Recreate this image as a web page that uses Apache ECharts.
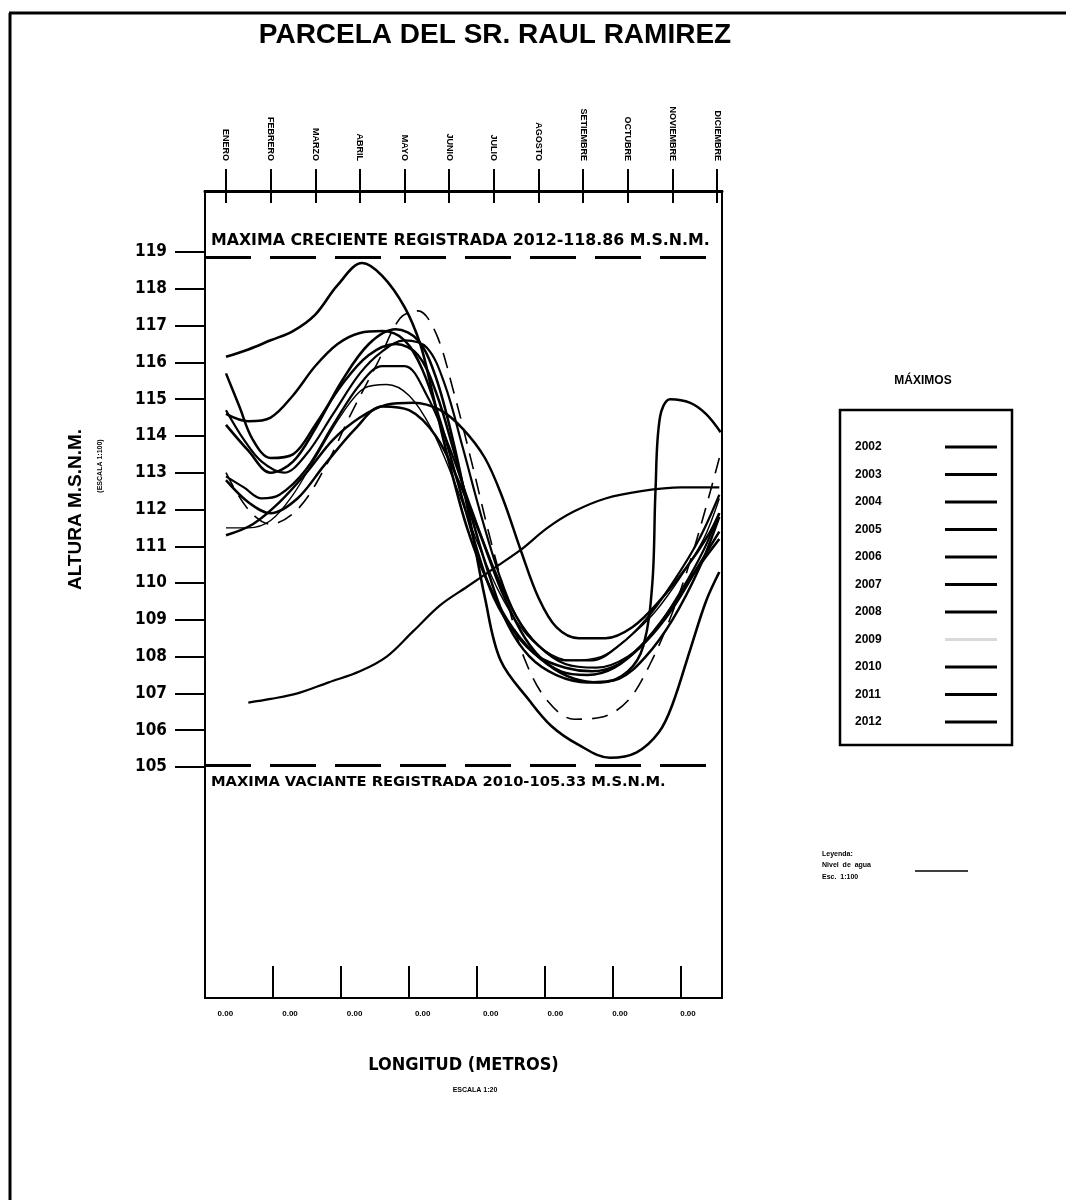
<!DOCTYPE html>
<html>
<head>
<meta charset="utf-8">
<script src="https://cdn.jsdelivr.net/npm/echarts@6/dist/echarts.min.js"></script>
<style>html,body{margin:0;padding:0;background:#fff}#c{width:1066px;height:1200px}</style>
</head>
<body>
<div id="c"></div>
<script>
// ---- data (x = month position, 0 = ENERO ... 11 = DICIEMBRE; y = altura m.s.n.m.) ----
const months = ['ENERO','FEBRERO','MARZO','ABRIL','MAYO','JUNIO','JULIO','AGOSTO','SETIEMBRE','OCTUBRE','NOVIEMBRE','DICIEMBRE'];
const monthPos = [0,1,2,3,4,5,6,7,8,9,10,11];
const lengthTickPos = [1,2,3,4,5,6,7];
const lengthLabelPos = [0.3,1.25,2.2,3.2,4.2,5.15,6.1,7.1];
const lengthLabels = ['0.00','0.00','0.00','0.00','0.00','0.00','0.00','0.00'];
const maxCreciente = 118.86;
const maxVaciante = 105.05;

const y2002 = [[0,114.6],[0.5,114.4],[1,114.5],[1.5,115.1],[2,115.9],[2.5,116.5],[3,116.8],[3.5,116.85],[4,116.6],[4.4,115.8],[4.8,114.4],[5.2,112.7],[5.6,111.0],[6.0,109.6],[6.5,108.6],[7.0,108.0],[7.6,107.7],[8.2,107.6],[8.8,107.8],[9.4,108.4],[10.0,109.3],[10.6,110.5],[11.05,111.4]];
const y2003 = [[0,115.7],[0.3,114.8],[0.6,113.9],[1,113.4],[1.5,113.5],[2,114.3],[2.6,115.4],[3.2,116.2],[3.8,116.5],[4.3,116.2],[4.7,115.2],[5.1,113.6],[5.5,111.8],[5.9,110.2],[6.3,108.9],[6.8,108.0],[7.4,107.5],[8.1,107.3],[8.8,107.4],[9.4,108.0],[10.0,109.0],[10.6,110.4],[11.05,111.8]];
const y2004 = [[0,112.8],[0.5,112.2],[1,111.9],[1.6,112.3],[2.2,113.2],[2.9,114.2],[3.5,114.8],[4.1,114.7],[4.7,114.0],[5.2,112.8],[5.7,111.3],[6.2,109.7],[6.7,108.5],[7.2,107.8],[7.8,107.4],[8.4,107.3],[9.0,107.6],[9.35,108.3],[9.55,110.0],[9.62,112.5],[9.72,114.5],[9.95,115.0],[10.4,114.9],[10.75,114.6],[11.08,114.1]];
const y2005 = [[0,112.9],[0.4,112.6],[0.8,112.3],[1.2,112.4],[1.8,113.1],[2.4,114.3],[3.0,115.4],[3.5,115.9],[4.0,115.9],[4.5,115.1],[5.0,113.7],[5.5,112.0],[6.0,110.4],[6.5,109.1],[7.0,108.3],[7.6,107.8],[8.3,107.7],[9.0,108.0],[9.6,108.7],[10.2,109.8],[10.7,110.9],[11.05,111.9]];
const y2006 = [[0,111.5],[0.5,111.5],[1,111.7],[1.5,112.4],[2,113.4],[2.6,114.6],[3.1,115.3],[3.6,115.4],[4.1,115.1],[4.6,114.2],[5.1,112.8],[5.6,111.2],[6.1,109.8],[6.6,108.8],[7.1,108.2],[7.7,107.9],[8.4,108.0],[9.0,108.5],[9.6,109.2],[10.2,110.2],[10.7,111.2],[11.05,112.3]];
const y2007 = [[0,111.3],[0.6,111.6],[1.2,112.2],[1.8,113.0],[2.4,113.9],[3.0,114.5],[3.6,114.85],[4.2,114.9],[4.8,114.7],[5.3,114.2],[5.8,113.4],[6.2,112.3],[6.6,110.9],[7.0,109.6],[7.4,108.8],[7.9,108.5],[8.5,108.5],[9.1,108.8],[9.7,109.5],[10.3,110.4],[10.8,111.3],[11.05,111.9]];
const y2008 = [[0,114.7],[0.4,113.9],[0.8,113.3],[1.3,113.0],[1.8,113.5],[2.4,114.6],[3.0,115.7],[3.5,116.3],[4.0,116.6],[4.5,116.4],[4.9,115.4],[5.3,113.7],[5.7,111.9],[6.1,110.3],[6.5,109.1],[7.0,108.3],[7.6,107.9],[8.2,107.9],[8.8,108.3],[9.4,109.0],[10.0,110.0],[10.6,111.2],[11.05,112.4]];
const y2009 = [[0,113.0],[0.5,112.0],[1,111.6],[1.6,112.0],[2.2,113.1],[2.8,114.6],[3.4,116.0],[3.9,117.2],[4.3,117.4],[4.7,116.8],[5.1,115.2],[5.5,113.3],[5.9,111.3],[6.3,109.5],[6.7,107.9],[7.2,106.8],[7.8,106.3],[8.4,106.35],[9.0,106.8],[9.5,107.8],[10.0,109.2],[10.5,111.0],[11.05,113.4]];
const y2010 = [[0,114.3],[0.5,113.6],[1,113.0],[1.5,113.3],[2,114.2],[2.6,115.5],[3.2,116.5],[3.8,116.9],[4.3,116.6],[4.7,115.6],[5.1,113.8],[5.45,111.8],[5.8,109.6],[6.15,107.9],[6.8,106.8],[7.3,106.1],[7.9,105.6],[8.6,105.25],[9.2,105.4],[9.7,105.95],[10.0,106.7],[10.4,108.2],[10.75,109.5],[11.05,110.3]];
const y2011 = [[0.5,106.75],[1,106.85],[1.6,107.0],[2.3,107.3],[3,107.6],[3.6,108.0],[4.2,108.7],[4.8,109.4],[5.4,109.9],[6,110.4],[6.6,110.9],[7.2,111.5],[7.8,111.95],[8.5,112.3],[9.3,112.5],[10.2,112.6],[11.05,112.6]];
const y2012 = [[0,116.15],[0.5,116.35],[1,116.6],[1.5,116.85],[2,117.3],[2.5,118.1],[3.05,118.7],[3.5,118.35],[4,117.5],[4.35,116.5],[4.6,115.3],[4.85,114.0],[5.1,112.8],[5.4,111.5],[5.8,110.2],[6.3,109.0],[6.9,108.1],[7.5,107.6],[8.1,107.5],[8.7,107.7],[9.3,108.3],[9.9,109.2],[10.5,110.3],[11.05,111.2]];

const seriesNames = ['2002','2003','2004','2005','2006','2007','2008','2009','2010','2011','2012'];
const seriesData = [y2002,y2003,y2004,y2005,y2006,y2007,y2008,y2009,y2010,y2011,y2012];
const seriesWidth = [2.5,2.5,2.5,2.2,1.4,2.5,2.2,1.6,2.6,2.2,2.6];

const FONT = "'Liberation Sans', Arial, sans-serif";
const NARROW = "'Liberation Sans Narrow','DejaVu Sans Condensed','Liberation Sans',sans-serif";
const WIDE = "'DejaVu Sans','Liberation Sans',sans-serif";

const series = seriesNames.map((n, i) => ({
  name: n, type: 'line', xAxisIndex: 0, yAxisIndex: 0,
  data: seriesData[i], smooth: 0.35, symbol: 'none', showSymbol: false, color: '#000',
  lineStyle: { color: '#000', width: seriesWidth[i], type: n === '2009' ? [16, 10] : 'solid' },
  z: 3
}));
// reference lines (max creciente / max vaciante)
series[series.length - 1].markLine = {
  silent: true, symbol: 'none', animation: false,
  lineStyle: { color: '#000', width: 3, type: [46, 19] },
  data: [
    { yAxis: maxCreciente, label: { show: true, position: 'insideStartTop', distance: [6, 8], formatter: 'MAXIMA CRECIENTE REGISTRADA 2012-' + maxCreciente.toFixed(2) + ' M.S.N.M.', color: '#000', fontWeight: 'bold', fontSize: 15.8, fontFamily: WIDE } },
    { yAxis: maxVaciante, label: { show: true, position: 'insideStartBottom', distance: [6, 10], formatter: 'MAXIMA VACIANTE REGISTRADA 2010-105.33 M.S.N.M.', color: '#000', fontWeight: 'bold', fontSize: 14.7, fontFamily: WIDE } }
  ]
};

const legendData = seriesNames.map(n => n === '2009'
  ? { name: n, icon: 'rect', itemStyle: { color: '#000', opacity: 0.15 } }
  : { name: n, icon: 'rect' });

const option = {
  animation: false,
  backgroundColor: '#fff',
  title: [
    { text: 'PARCELA DEL SR. RAUL RAMIREZ', left: 490, top: 16, textAlign: 'center', textStyle: { fontSize: 28, fontWeight: 'bold', fontFamily: FONT, color: '#000' } },
    { text: 'MÁXIMOS', left: 918, top: 370, textAlign: 'center', textStyle: { fontSize: 12, fontWeight: 'bold', fontFamily: FONT, color: '#000' } },
    { text: 'ESCALA 1:20', left: 470, top: 1082, textAlign: 'center', textStyle: { fontSize: 7, fontWeight: 'bold', fontFamily: FONT, color: '#000' } }
  ],
  grid: [
    { left: 205, top: 191, width: 517, bottom: 202, show: true, borderColor: '#000', borderWidth: 2, backgroundColor: 'transparent' },
    { left: 205, top: 252, width: 517, height: 515 }
  ],
  xAxis: [
    { type: 'value', gridIndex: 1, min: -0.47, max: 11.11, show: false, axisLine: { onZero: false } },
    { type: 'value', gridIndex: 0, position: 'top', min: -0.47, max: 11.11,
      splitLine: { show: false },
      axisLine: { show: true, onZero: false, lineStyle: { color: '#000', width: 3 } },
      axisTick: { show: true, customValues: monthPos, length: 22, lineStyle: { color: '#000', width: 2 } },
      axisLabel: { show: true, customValues: monthPos, rotate: 90, margin: 30, fontSize: 9, fontWeight: 'bold', fontFamily: FONT, color: '#000',
        formatter: v => months[Math.round(v)] } },
    { type: 'value', gridIndex: 0, position: 'top', min: -0.47, max: 11.11,
      splitLine: { show: false }, axisLine: { show: false, onZero: false },
      axisTick: { show: true, inside: true, customValues: monthPos, length: 12, lineStyle: { color: '#000', width: 2 } },
      axisLabel: { show: false } },
    { type: 'value', gridIndex: 0, position: 'bottom', min: 0, max: 7.6,
      splitLine: { show: false },
      axisLine: { show: true, onZero: false, lineStyle: { color: '#000', width: 2 } },
      axisTick: { show: true, inside: true, customValues: lengthTickPos, length: 32, lineStyle: { color: '#000', width: 2 } },
      axisLabel: { show: true, customValues: lengthLabelPos, margin: 12, fontSize: 8, fontWeight: 'bold', fontFamily: FONT, color: '#000',
        formatter: v => lengthLabels[lengthLabelPos.indexOf(v)] || '0.00' },
      name: 'LONGITUD (METROS)', nameLocation: 'middle', nameGap: 58,
      nameTextStyle: { fontSize: 18, fontWeight: 'bold', fontFamily: NARROW, color: '#000' } }
  ],
  yAxis: [
    { type: 'value', gridIndex: 1, min: 105, max: 119, interval: 1,
      splitLine: { show: false },
      axisLine: { show: true, onZero: false, lineStyle: { color: '#000', width: 2 } },
      axisTick: { show: true, length: 30, lineStyle: { color: '#000', width: 2 } },
      axisLabel: { margin: 38, fontSize: 17, fontWeight: 'bold', fontFamily: NARROW, color: '#000' },
      name: 'ALTURA M.S.N.M.', nameLocation: 'middle', nameRotate: 90, nameGap: 120,
      nameTextStyle: { fontSize: 19, fontWeight: 'bold', fontFamily: FONT, color: '#000' } },
    { type: 'value', gridIndex: 0, min: 0, max: 1, show: false, axisLine: { onZero: false } }
  ],
  legend: {
    orient: 'vertical', left: 840, top: 410, align: 'right',
    padding: [30, 15, 16, 15], itemWidth: 52, itemHeight: 3, itemGap: 13.5,
    borderColor: '#000', borderWidth: 2.5, borderRadius: 0,
    selectedMode: false,
    data: legendData,
    itemStyle: { color: '#000' },
    formatter: n => '{a|' + n + '}',
    textStyle: { rich: { a: { width: 85, height: 14, lineHeight: 14, align: 'left', fontSize: 12, fontWeight: 'bold', fontFamily: FONT, color: '#000' } } }
  },
  graphic: [
    { type: 'line', shape: { x1: 10, y1: 13, x2: 10, y2: 1200 }, style: { stroke: '#000', lineWidth: 3 } },
    { type: 'line', shape: { x1: 9, y1: 13, x2: 1066, y2: 13 }, style: { stroke: '#000', lineWidth: 3 } },
    { type: 'text', x: 100, y: 466, rotation: Math.PI / 2, style: { text: '(ESCALA 1:100)', font: 'bold 7px ' + FONT, fill: '#000', align: 'center', verticalAlign: 'middle' } },
    { type: 'text', x: 822, y: 851, style: { text: 'Leyenda:', font: 'bold 7px ' + FONT, fill: '#000' } },
    { type: 'text', x: 822, y: 862, style: { text: 'Nivel  de  agua', font: 'bold 7px ' + FONT, fill: '#000' } },
    { type: 'text', x: 822, y: 874, style: { text: 'Esc.  1:100', font: 'bold 7px ' + FONT, fill: '#000' } },
    { type: 'line', shape: { x1: 915, y1: 871, x2: 968, y2: 871 }, style: { stroke: '#000', lineWidth: 1.5 } }
  ],
  series: series
};

const chart = echarts.init(document.getElementById('c'), null, { renderer: 'canvas' });
chart.setOption(option);
</script>
</body>
</html>
